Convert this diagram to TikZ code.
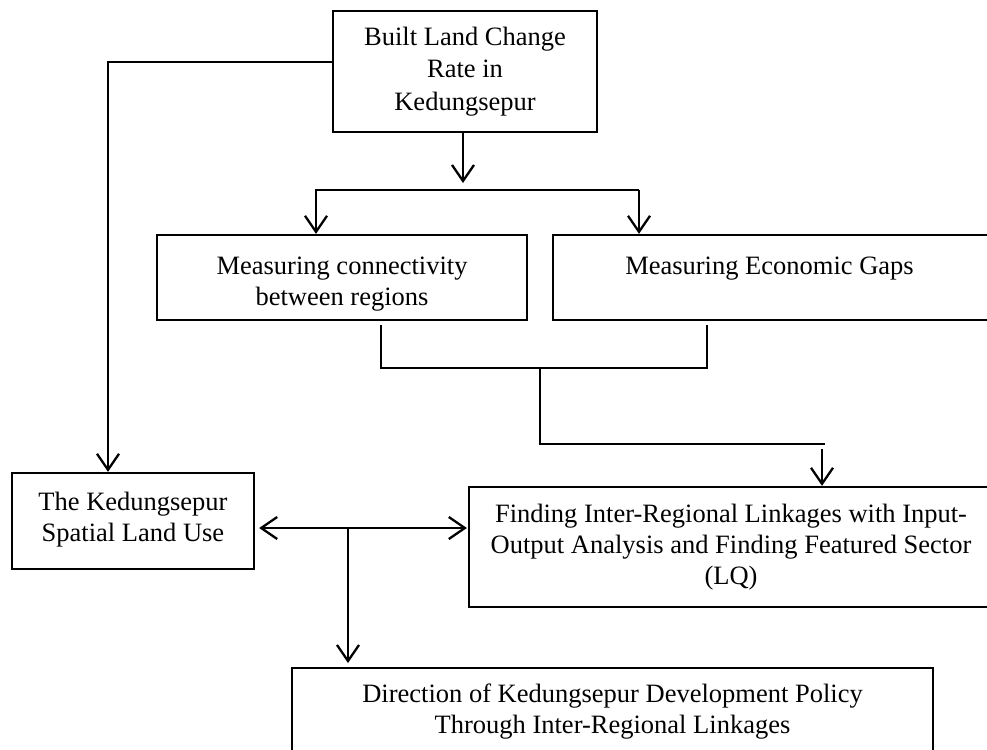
\documentclass[tikz,border=0pt]{standalone}
\usepackage{fontspec}
\setmainfont{Liberation Serif}
\usetikzlibrary{arrows.meta}
\begin{document}
\begin{tikzpicture}[x=1pt,y=-1pt,
  box/.style={draw,line width=2.3pt,align=center,inner sep=0pt,
    font=\fontsize{26.5}{31}\selectfont},
  conline/.style={line width=2.3pt},
  arr/.style={conline,-{Straight Barb[length=16pt,width=22pt]}},
  arrboth/.style={conline,{Straight Barb[length=16pt,width=22pt]}-{Straight Barb[length=16pt,width=22pt]}}]
\useasboundingbox (0,0) rectangle (987,749);
\clip (0,0) rectangle (987,749);
\fill[white] (0,0) rectangle (987,749);

\node[box, minimum width=264, minimum height=121, font=\fontsize{26.5}{32.5}\selectfont] (built) at (465,71.5)
  {Built Land Change\\Rate in\\Kedungsepur};
\node[box, minimum width=370, minimum height=85] (conn) at (342,277.5)
  {\rule{0pt}{30pt}Measuring connectivity\\between regions};
\node[box, minimum width=447, minimum height=85] (econ) at (776.5,277.5)
  {\rule{0pt}{30pt}\hspace*{-14pt}Measuring Economic Gaps\\\rule[-6pt]{0pt}{1pt}};
\node[box, minimum width=242, minimum height=96] (spatial) at (133,521)
  {The Kedungsepur\\Spatial Land Use\rule[-9pt]{0pt}{1pt}};
\node[box, minimum width=524, minimum height=120] (lq) at (731,547)
  {Finding Inter-Regional Linkages with Input-\\Output Analysis and Finding Featured Sector\\(LQ)};
\node[box, anchor=north, minimum width=641, inner ysep=16pt] (policy) at (612.5,667)
  {Direction of Kedungsepur Development Policy\\Through Inter-Regional Linkages\rule[-25pt]{0pt}{1pt}};

% built -> spatial
\coordinate (c1) at (108,62);
\draw[arr] (built.west |- c1) -- (c1) -- (c1 |- spatial.north);
% built -> split
\coordinate (c2) at (463,183);
\draw[arr] (built.south -| c2) -- (c2);
\coordinate (hl) at (316,190);
\coordinate (hr) at (639,190);
\draw[arr] (hr) -- (hl) -- (hl |- conn.north);
\draw[arr] (hr) -- (hr |- econ.north);
% bracket
\coordinate (b1) at (381,325);
\coordinate (b2) at (381,368);
\coordinate (b3) at (707,368);
\coordinate (b4) at (707,325);
\draw[conline] (b1) -- (b2) -- (b3) -- (b4);
\coordinate (d1) at (540,368);
\coordinate (d2) at (540,444);
\coordinate (d3) at (825,444);
\coordinate (d4) at (822,449);
\draw[conline] (d1) -- (d2) -- (d3);
\draw[arr] (d4) -- (d4 |- lq.north);
% double arrow and down
\coordinate (m) at (348,528);
\draw[arrboth, shorten <=4pt, shorten >=1pt] (spatial.east |- m) -- (lq.west |- m);
\draw[arr, shorten >=4pt] (m) -- (m |- policy.north);
\end{tikzpicture}
\end{document}
